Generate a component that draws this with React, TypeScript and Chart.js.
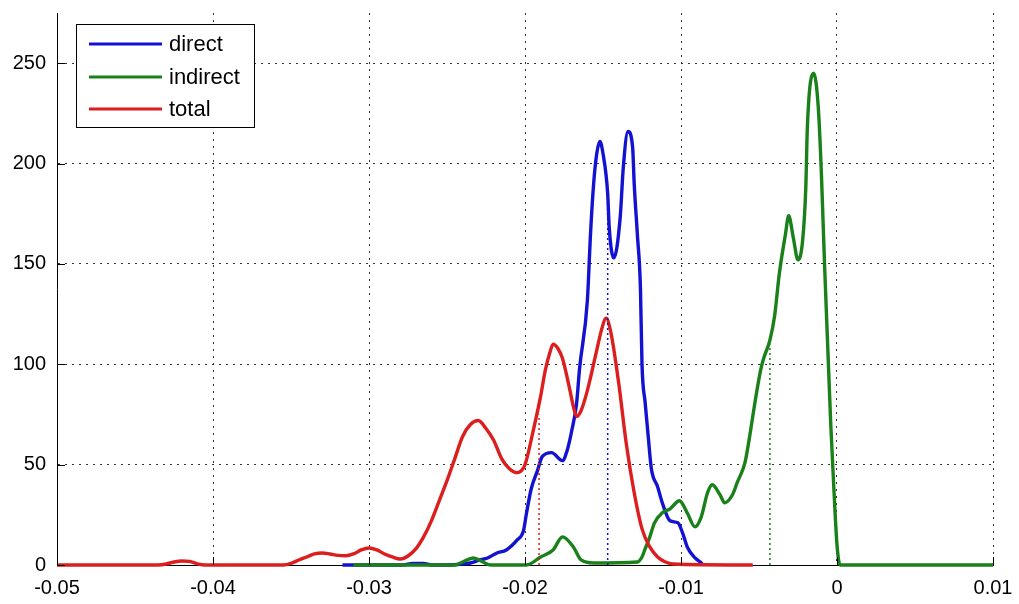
import { useEffect, useRef } from 'react';
import { Chart, registerables } from 'chart.js';
Chart.register(...registerables);

const xTicks = [-0.05, -0.04, -0.03, -0.02, -0.01, 0, 0.01];
const xTickLabels = ['-0.05', '-0.04', '-0.03', '-0.02', '-0.01', '0', '0.01'];
const yTicks = [0, 50, 100, 150, 200, 250];
const yTickLabels = ['0', '50', '100', '150', '200', '250'];

const seriesNames = ['direct', 'indirect', 'total'];

const directX = [-0.0317, -0.0278, -0.0272, -0.0265, -0.026, -0.025, -0.024, -0.0235, -0.0229, -0.0224, -0.0218, -0.0212, -0.0205, -0.0201, -0.0199, -0.0196, -0.0192, -0.0189, -0.0183, -0.0176, -0.0173, -0.017, -0.0167, -0.0165, -0.016, -0.0158, -0.0156, -0.0154, -0.0152, -0.015, -0.0147, -0.0146, -0.0143, -0.0139, -0.0137, -0.0134, -0.0131, -0.013, -0.0128, -0.0126, -0.0125, -0.0123, -0.0121, -0.0119, -0.0115, -0.0112, -0.0107, -0.0102, -0.0099, -0.0096, -0.0091, -0.0087, -0.0086];
const directY = [0, 0, 0.8, 0.8, 0, 0, 0.5, 1, 2.5, 3.5, 6, 7.5, 12.5, 17, 26, 38, 47, 54, 56, 52, 57, 67, 80, 98, 132, 165, 190, 205, 211, 205, 185, 168, 153, 173, 198, 216, 208, 190, 165, 138, 100, 81, 64, 48, 39, 31, 22, 21, 16, 9, 3.5, 1, 0];

const indirectX = [-0.031, -0.0245, -0.024, -0.0233, -0.0227, -0.0222, -0.0199, -0.019, -0.0182, -0.0176, -0.0169, -0.0164, -0.0156, -0.0128, -0.0125, -0.0123, -0.012, -0.0117, -0.0112, -0.0107, -0.0101, -0.0096, -0.0091, -0.0087, -0.0083, -0.008, -0.0075, -0.0072, -0.0067, -0.0064, -0.0059, -0.0056, -0.0053, -0.0049, -0.0047, -0.0043, -0.004, -0.0037, -0.0033, -0.0031, -0.0028, -0.0025, -0.0022, -0.002, -0.0019, -0.0015, -0.0012, -0.001, -0.0008, -0.0006, -0.0004, -0.0002, 0, 0.0002, 0.01];
const indirectY = [0, 0, 1.5, 3.5, 1.5, 0, 0, 4, 7.5, 14, 9, 2.5, 1, 1.5, 4, 8, 14, 21, 26, 28, 32, 26, 19, 24, 36, 40, 35, 31, 35, 41, 51, 64, 79, 97, 103, 112, 124, 145, 165, 174, 163, 152, 162, 188, 218, 245, 228, 195, 150, 110, 70, 38, 10, 0, 0];

const totalX = [-0.05, -0.0435, -0.043, -0.0425, -0.042, -0.0415, -0.041, -0.0405, -0.0355, -0.035, -0.0345, -0.034, -0.0335, -0.033, -0.0325, -0.032, -0.0315, -0.031, -0.0305, -0.03, -0.0295, -0.029, -0.0285, -0.028, -0.0275, -0.027, -0.0265, -0.026, -0.0255, -0.025, -0.0245, -0.024, -0.0235, -0.023, -0.0225, -0.022, -0.0215, -0.021, -0.0205, -0.02, -0.0195, -0.019, -0.0187, -0.0184, -0.0182, -0.0179, -0.0176, -0.0172, -0.0169, -0.0167, -0.0164, -0.016, -0.0154, -0.0151, -0.0148, -0.0145, -0.014, -0.0135, -0.013, -0.0125, -0.012, -0.0115, -0.011, -0.0105, -0.0054];
const totalY = [0, 0, 0.5, 1.5, 2, 1.8, 0.6, 0, 0, 0.8, 2.5, 4, 5.5, 6, 5.5, 4.8, 4.6, 5.5, 7.5, 8.5, 7.5, 5.5, 4, 3, 4.5, 8, 14, 22, 32, 42, 53, 64, 70, 72, 68, 62, 53, 48, 46, 50, 66, 84, 97, 106, 110, 108, 103, 90, 79, 74, 77, 87, 107, 117, 123, 116, 91, 60, 36, 18, 9, 4, 1.5, 0.5, 0];

const meanX = [-0.0147, -0.0043, -0.0191];
const meanH = [185, 110, 75];

const colors = ['#1212d0', '#1a801a', '#dc1e1e'];

const FONT = "'Liberation Sans', Arial, Helvetica, sans-serif";

const pts = (xs: number[], ys: number[]) => xs.map((x, i) => ({ x, y: ys[i] }));

const inwardTicks = {
  id: 'inwardTicks',
  afterDraw(chart: any) {
    const { ctx, chartArea, scales } = chart;
    ctx.save();
    ctx.strokeStyle = '#000';
    ctx.lineWidth = 1;
    ctx.beginPath();
    for (const v of xTicks) {
      const px = Math.round(scales.x.getPixelForValue(v)) + 0.5;
      ctx.moveTo(px, chartArea.bottom);
      ctx.lineTo(px, chartArea.bottom - 8);
    }
    for (const v of yTicks) {
      const py = Math.round(scales.y.getPixelForValue(v)) + 0.5;
      ctx.moveTo(chartArea.left, py);
      ctx.lineTo(chartArea.left + 8, py);
    }
    ctx.stroke();
    ctx.restore();
  },
};

const boxLegend = {
  id: 'boxLegend',
  afterDraw(chart: any) {
    const { ctx } = chart;
    const x0 = 76, y0 = 24, w = 178, h = 103;
    ctx.save();
    ctx.fillStyle = '#fff';
    ctx.fillRect(x0, y0, w, h);
    ctx.strokeStyle = '#000';
    ctx.lineWidth = 1;
    ctx.strokeRect(x0 + 0.5, y0 + 0.5, w, h);
    const rows = [44, 77, 109];
    ctx.font = `22px ${FONT}`;
    ctx.textBaseline = 'middle';
    ctx.textAlign = 'left';
    seriesNames.forEach((name, i) => {
      ctx.strokeStyle = colors[i];
      ctx.lineWidth = 3;
      ctx.beginPath();
      ctx.moveTo(89, rows[i]);
      ctx.lineTo(162, rows[i]);
      ctx.stroke();
      ctx.fillStyle = '#000';
      ctx.fillText(name, 169, rows[i] + 1);
    });
    ctx.restore();
  },
};

export default function App() {
  const ref = useRef<HTMLCanvasElement>(null);
  useEffect(() => {
    const curveSets = [
      { xs: directX, ys: directY, order: 3 },
      { xs: indirectX, ys: indirectY, order: 2 },
      { xs: totalX, ys: totalY, order: 1 },
    ].map((s, i) => ({
      label: seriesNames[i],
      data: pts(s.xs, s.ys),
      borderColor: colors[i],
      backgroundColor: colors[i],
      borderWidth: 3.4,
      pointRadius: 0,
      fill: false,
      cubicInterpolationMode: 'monotone' as const,
      clip: false as any,
      order: s.order,
    }));
    const meanSets = meanX.map((m, i) => ({
      label: 'mean ' + seriesNames[i],
      data: [{ x: m, y: 0 }, { x: m, y: meanH[i] }],
      borderColor: colors[i],
      borderWidth: 1.5,
      borderDash: [2, 3],
      pointRadius: 0,
      fill: false,
      order: 0,
    }));
    const chart = new Chart(ref.current!, {
      type: 'line',
      data: { datasets: [...curveSets, ...meanSets] as any },
      options: {
        animation: false,
        responsive: true,
        maintainAspectRatio: false,
        layout: { padding: { left: 0, top: 13, right: 26, bottom: 0 } },
        plugins: { legend: { display: false }, tooltip: { enabled: false } },
        scales: {
          x: {
            type: 'linear',
            min: -0.05,
            max: 0.01,
            afterBuildTicks: (scale: any) => {
              scale.ticks = xTicks.map((v) => ({ value: v }));
            },
            afterFit: (scale: any) => {
              scale.height = 39;
              scale.paddingLeft = 0;
              scale.paddingRight = 0;
            },
            ticks: {
              callback: (_v: any, i: number) => xTickLabels[i],
              font: { family: FONT, size: 20 },
              color: '#000',
              padding: 11,
              maxRotation: 0,
              autoSkip: false,
            },
            grid: { color: '#333', lineWidth: 1, drawTicks: false },
            border: { display: true, color: '#000', width: 1, dash: [2, 5] },
          },
          y: {
            type: 'linear',
            min: 0,
            max: 275,
            afterBuildTicks: (scale: any) => {
              scale.ticks = yTicks.map((v) => ({ value: v }));
            },
            afterFit: (scale: any) => {
              scale.width = 57;
              scale.paddingTop = 0;
              scale.paddingBottom = 0;
            },
            ticks: {
              callback: (_v: any, i: number) => yTickLabels[i],
              font: { family: FONT, size: 20 },
              color: '#000',
              padding: 11,
              autoSkip: false,
            },
            grid: { color: '#333', lineWidth: 1, drawTicks: false },
            border: { display: true, color: '#000', width: 1, dash: [2, 5] },
          },
        },
      },
      plugins: [inwardTicks, boxLegend],
    });
    return () => chart.destroy();
  }, []);
  return (
    <div style={{ position: 'absolute', left: 0, top: 0, width: 1019, height: 604, background: '#fff' }}>
      <canvas ref={ref} />
    </div>
  );
}
